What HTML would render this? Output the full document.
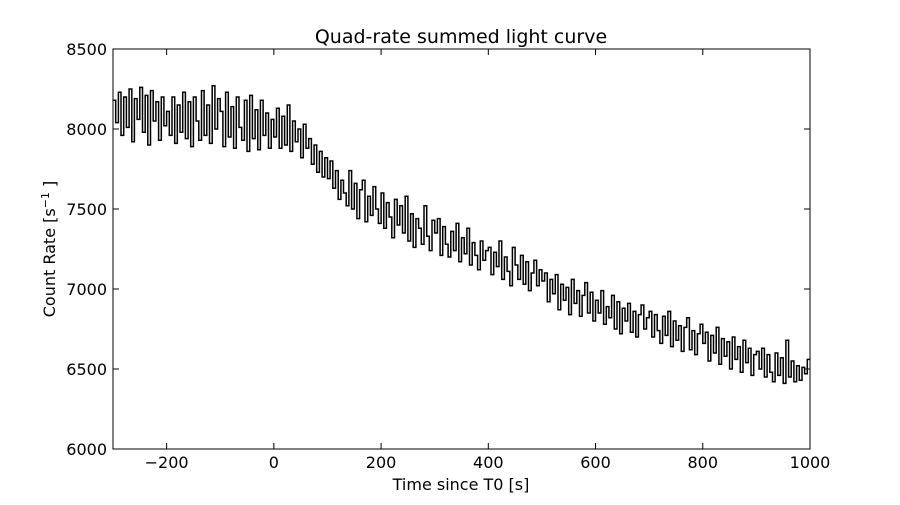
<!DOCTYPE html>
<html><head><meta charset="utf-8"><style>
body{margin:0;background:#fff;}
svg text{font-family:"DejaVu Sans","Liberation Sans",sans-serif;}
</style></head><body>
<svg id="chart" width="900" height="500" xmlns="http://www.w3.org/2000/svg">
<rect width="900" height="500" fill="#fff"/>
<text x="461" y="43" font-size="19" text-anchor="middle">Quad-rate summed light curve</text>
<text x="461" y="490" font-size="16" text-anchor="middle">Time since T0 [s]</text>
<text transform="translate(55,249) rotate(-90)" font-size="16" text-anchor="middle">Count Rate [s<tspan font-size="11" dy="-6">−1</tspan><tspan dy="6"> ]</tspan></text>
<g id="ticks"></g>
<path id="series" fill="none" stroke="#000" stroke-width="1.5"/>
<rect x="113" y="49" width="697" height="400" fill="none" stroke="#000" stroke-width="1"/>
</svg>
<script>
const xTicks=[-200,0,200,400,600,800,1000];
const yTicks=[6000,6500,7000,7500,8000,8500];
const binStart=-300;
const binWidth=5;
const rates=[
8180,8040,8230,7960,8200,8010,8250,7920,8190,8060,8260,7980,8210,7900,8240,8050,8170,7930,8200,8020,
8110,7960,8200,7910,8150,7980,8230,7940,8170,7890,8200,8050,7930,8240,7960,8150,7910,8270,8000,8190,
8110,7890,8230,7950,8140,7880,8200,8010,7930,8180,7860,8210,7940,8120,7870,8180,7960,8100,7880,8060,
7950,8130,7880,8080,7900,8150,7860,8050,7920,8000,7820,8030,7880,7940,7780,7900,7730,7860,7700,7820,
7690,7800,7630,7740,7560,7680,7600,7520,7740,7500,7660,7440,7620,7680,7420,7580,7460,7640,7500,7410,
7600,7380,7540,7450,7320,7560,7400,7520,7350,7580,7300,7470,7260,7440,7380,7280,7520,7330,7240,7430,
7350,7440,7210,7390,7280,7200,7360,7240,7410,7170,7320,7220,7380,7150,7290,7210,7120,7300,7180,7240,
7260,7090,7230,7140,7300,7060,7200,7110,7020,7260,7150,7060,7210,7030,7170,6990,7100,7180,7020,7120,
7050,7100,6920,7060,6970,7090,6870,7030,6930,7010,6840,7060,6910,6990,6830,6960,7040,6850,6980,6800,
6930,6850,6990,6780,6890,6820,6960,6750,6920,6720,6880,6800,6910,6730,6860,6700,6840,6900,6750,6820,
6860,6700,6840,6740,6660,6830,6710,6860,6640,6800,6680,6770,6610,6760,6820,6620,6740,6590,6720,6780,
6660,6730,6550,6710,6600,6760,6530,6690,6580,6670,6500,6700,6560,6640,6480,6680,6540,6630,6460,6590,
6610,6500,6630,6450,6590,6480,6420,6600,6460,6570,6410,6680,6450,6550,6420,6520,6430,6510,6470,6560
];
const L=113,R=810,T=49,B=449;
const xs=v=>L+(v-(-300))/(1000-(-300))*(R-L);
const ys=v=>B-(v-6000)/(8500-6000)*(B-T);
const NS="http://www.w3.org/2000/svg";
const g=document.getElementById('ticks');
function mk(tag,attrs){const e=document.createElementNS(NS,tag);for(const k in attrs)e.setAttribute(k,attrs[k]);g.appendChild(e);return e;}
xTicks.forEach(v=>{
  const x=xs(v);
  const t1=mk('line',{x1:x,x2:x,y1:B,y2:B-6,stroke:'#000'});
  
  
  const t2=mk('line',{x1:x,x2:x,y1:T,y2:T+6,stroke:'#000'});
  
  
  const tx=mk('text',{x:x,y:B+19,'font-size':16,'text-anchor':'middle'});
  tx.textContent=v<0?'−'+Math.abs(v):String(v);
  
  
});
yTicks.forEach(v=>{
  const y=ys(v);
  const t1=mk('line',{x1:L,x2:L+6,y1:y,y2:y,stroke:'#000'});
  
  
  const t2=mk('line',{x1:R,x2:R-6,y1:y,y2:y,stroke:'#000'});
  
  
  const tx=mk('text',{x:L-6,y:y+6,'font-size':16,'text-anchor':'end'});
  tx.textContent=String(v);
  
  
});
let d='';
rates.forEach((r,i)=>{
  const x0=xs(binStart+i*binWidth),x1=xs(binStart+(i+1)*binWidth),y=ys(r);
  d+=(i===0?'M':'L')+x0.toFixed(1)+','+y.toFixed(1)+'L'+x1.toFixed(1)+','+y.toFixed(1);
});
document.getElementById('series').setAttribute('d',d);
</script>
</body></html>
